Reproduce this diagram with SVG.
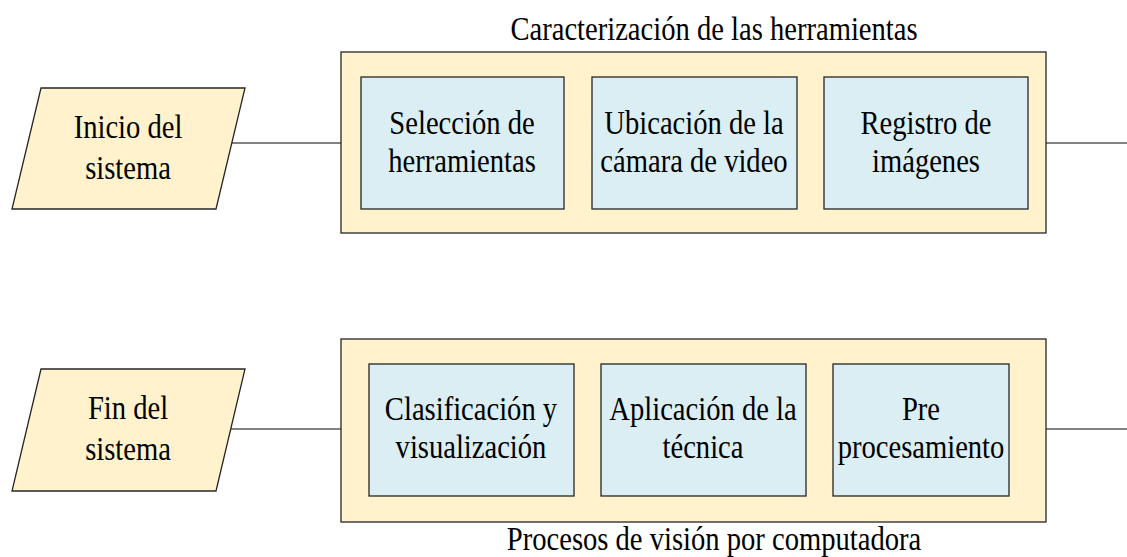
<svg xmlns="http://www.w3.org/2000/svg" width="1127" height="557" viewBox="0 0 1127 557">
<style>
.io{fill:#FFF2CC;stroke:#262626;stroke-width:1.3}
.grp{fill:#FFF2CC;stroke:#262626;stroke-width:1.3}
.step{fill:#DAEEF3;stroke:#262626;stroke-width:1.3}
.t{font-family:"Liberation Serif","Times New Roman",serif;font-size:28.6px;fill:#000;text-anchor:middle}
.c{stroke:#595959;stroke-width:1.5;fill:none}
</style>
<rect width="1127" height="557" fill="#fff"/>
<g id="connectors">
<line class="c" x1="231" y1="143" x2="341" y2="143"/>
<line class="c" x1="1046" y1="143" x2="1127" y2="143"/>
<line class="c" x1="231" y1="429" x2="341" y2="429"/>
<line class="c" x1="1046" y1="429" x2="1127" y2="429"/>
</g>
<g id="inicio">
<polygon class="io" points="41,88 245,88 216,209 12,209"/>
<text class="t" transform="translate(128,138) scale(1,1.18)">Inicio del</text>
<text class="t" transform="translate(128,179) scale(1,1.18)">sistema</text>
</g>
<g id="caracterizacion">
<rect class="grp" x="341" y="52" width="705" height="181"/>
<text class="t" transform="translate(714,40) scale(1,1.18)">Caracterización de las herramientas</text>
</g>
<g id="seleccion">
<rect class="step" x="361" y="77" width="203" height="132"/>
<text class="t" transform="translate(462,134) scale(1,1.18)">Selección de</text>
<text class="t" transform="translate(462,172) scale(1,1.18)">herramientas</text>
</g>
<g id="ubicacion">
<rect class="step" x="592" y="77" width="205" height="132"/>
<text class="t" transform="translate(694,134) scale(1,1.18)">Ubicación de la</text>
<text class="t" transform="translate(694,172) scale(1,1.18)">cámara de video</text>
</g>
<g id="registro">
<rect class="step" x="824" y="77" width="204" height="132"/>
<text class="t" transform="translate(926,134) scale(1,1.18)">Registro de</text>
<text class="t" transform="translate(926,172) scale(1,1.18)">imágenes</text>
</g>
<g id="fin">
<polygon class="io" points="41,369 245,369 216,491 12,491"/>
<text class="t" transform="translate(128,419) scale(1,1.18)">Fin del</text>
<text class="t" transform="translate(128,460) scale(1,1.18)">sistema</text>
</g>
<g id="procesos">
<rect class="grp" x="341" y="339" width="705" height="183"/>
<text class="t" transform="translate(714,550) scale(1,1.18)">Procesos de visión por computadora</text>
</g>
<g id="clasificacion">
<rect class="step" x="369" y="364" width="205" height="132"/>
<text class="t" transform="translate(471,420) scale(1,1.18)">Clasificación y</text>
<text class="t" transform="translate(471,458) scale(1,1.18)">visualización</text>
</g>
<g id="aplicacion">
<rect class="step" x="601" y="364" width="205" height="132"/>
<text class="t" transform="translate(703,420) scale(1,1.18)">Aplicación de la</text>
<text class="t" transform="translate(703,458) scale(1,1.18)">técnica</text>
</g>
<g id="pre">
<rect class="step" x="833" y="364" width="176" height="132"/>
<text class="t" transform="translate(921,420) scale(1,1.18)">Pre</text>
<text class="t" transform="translate(921,458) scale(1,1.18)">procesamiento</text>
</g>
</svg>
